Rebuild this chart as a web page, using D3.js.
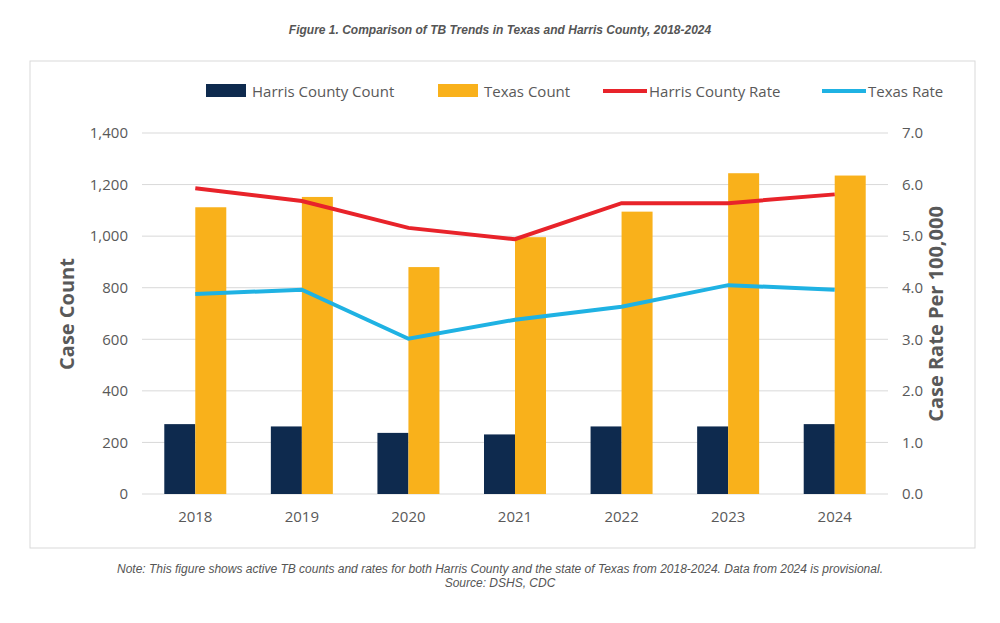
<!DOCTYPE html><html><head><meta charset="utf-8"><script src="https://cdn.jsdelivr.net/npm/d3@7"></script>
<style>body{margin:0;background:#fff}text{font-family:"Open Sans",Arial,sans-serif}</style></head><body><svg id="c" width="1000" height="623"></svg>
<script>
const years=["2018","2019","2020","2021","2022","2023","2024"];
const harrisCount=[271,262,237,231,262,262,271];
const texasCount=[1112,1152,880,996,1095,1244,1235];
const harrisRate=[5.93,5.68,5.16,4.94,5.64,5.64,5.81];
const texasRate=[3.88,3.96,3.01,3.38,3.63,4.05,3.96];
const leftTicks=[0,200,400,600,800,1000,1200,1400];
const rightTicks=[0,1,2,3,4,5,6,7];
const svg=d3.select("#c");
svg.append("text").attr("x",500).attr("y",34).attr("text-anchor","middle").attr("font-size",12).attr("font-style","italic").attr("font-weight","bold").attr("fill","#555").style("font-family","Arial,'Liberation Sans'").text("Figure 1. Comparison of TB Trends in Texas and Harris County, 2018-2024");
svg.append("rect").attr("x",30).attr("y",61).attr("width",945).attr("height",487).attr("fill","none").attr("stroke","#d9d9d9");
const x=d3.scaleBand().domain(years).range([142,888]);
const yL=d3.scaleLinear().domain([0,1400]).range([494,133]);
const yR=d3.scaleLinear().domain([0,7]).range([494,133]);
svg.append("g").selectAll("line").data(leftTicks).join("line").attr("x1",142).attr("x2",888).attr("y1",d=>yL(d)).attr("y2",d=>yL(d)).attr("stroke","#d9d9d9");
const gl=svg.append("g").attr("transform","translate(142,0)").call(d3.axisLeft(yL).tickValues(leftTicks).tickSize(0).tickPadding(14));
const gr=svg.append("g").attr("transform","translate(888,0)").call(d3.axisRight(yR).tickValues(rightTicks).tickSize(0).tickPadding(14));
const gb=svg.append("g").attr("transform","translate(0,494)").call(d3.axisBottom(x).tickSize(0).tickPadding(17));
[gl,gr,gb].forEach(g=>{g.select(".domain").remove();g.selectAll("text").attr("font-size",15).attr("fill","#595959").style("font-family","'Open Sans'");});
const bw=31;
svg.append("g").selectAll("rect").data(harrisCount).join("rect").attr("x",(d,i)=>x(years[i])+x.bandwidth()/2-bw).attr("width",bw).attr("y",d=>yL(d)).attr("height",d=>494-yL(d)).attr("fill","#0e2a4e");
svg.append("g").selectAll("rect").data(texasCount).join("rect").attr("x",(d,i)=>x(years[i])+x.bandwidth()/2).attr("width",bw).attr("y",d=>yL(d)).attr("height",d=>494-yL(d)).attr("fill","#f9b11b");
const line=d3.line().x((d,i)=>x(years[i])+x.bandwidth()/2).y(d=>yR(d));
svg.append("path").attr("d",line(harrisRate)).attr("fill","none").attr("stroke","#e8232a").attr("stroke-width",4);
svg.append("path").attr("d",line(texasRate)).attr("fill","none").attr("stroke","#1fb2e3").attr("stroke-width",4);
svg.append("text").attr("transform","translate(74,314) rotate(-90)").attr("text-anchor","middle").attr("font-size",20).attr("font-weight","bold").attr("fill","#595959").text("Case Count");
svg.append("text").attr("transform","translate(943,314) rotate(-90)").attr("text-anchor","middle").attr("font-size",20).attr("font-weight","bold").attr("fill","#595959").text("Case Rate Per 100,000");
const leg=[["Harris County Count","#0e2a4e","bar",206],["Texas Count","#f9b11b","bar",438],["Harris County Rate","#e8232a","line",603],["Texas Rate","#1fb2e3","line",822]];
leg.forEach(([t,c,k,lx])=>{
 if(k=="bar")svg.append("rect").attr("x",lx).attr("y",84).attr("width",40).attr("height",13).attr("fill",c);
 else svg.append("line").attr("x1",lx).attr("x2",lx+44).attr("y1",91).attr("y2",91).attr("stroke",c).attr("stroke-width",4);
 svg.append("text").attr("x",lx+(k=="bar"?46:46)).attr("y",97).attr("font-size",15).attr("fill","#595959").text(t);
});
svg.append("text").attr("x",500).attr("y",573).attr("text-anchor","middle").attr("font-size",12).attr("font-style","italic").attr("fill","#555").style("font-family","Arial,'Liberation Sans'").text("Note: This figure shows active TB counts and rates for both Harris County and the state of Texas from 2018-2024. Data from 2024 is provisional.");
svg.append("text").attr("x",500).attr("y",587).attr("text-anchor","middle").attr("font-size",12).attr("font-style","italic").attr("fill","#555").style("font-family","Arial,'Liberation Sans'").text("Source: DSHS, CDC");
</script></body></html>
